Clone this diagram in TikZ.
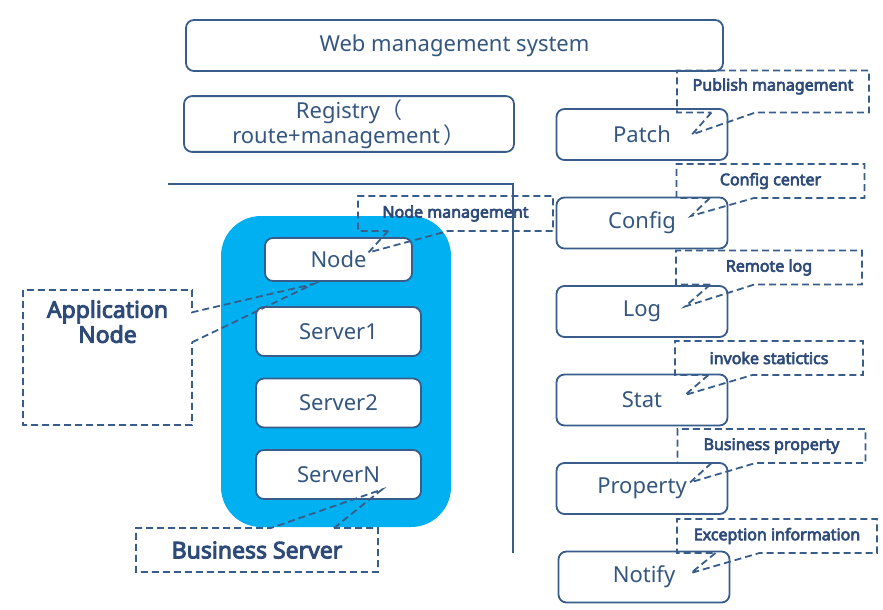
\documentclass[tikz,border=0pt]{standalone}
\usepackage{fontspec}
\setmainfont{Noto Sans}[BoldFont={Noto Sans}, BoldFeatures={FakeBold=4}]
\newfontfamily\cjkfont{Noto Sans CJK SC}
\usepackage{tikz}
\usetikzlibrary{positioning}
\usetikzlibrary{shapes.callouts}
\definecolor{lineblue}{HTML}{385D8A}
\definecolor{textblue}{HTML}{34567F}
\definecolor{notetext}{HTML}{2D4A78}
\definecolor{appblue}{HTML}{00B0F0}
\tikzset{
  box/.style={
    draw=lineblue, line width=1.8pt, rounded corners=8pt,
    fill=white, text=textblue, font=\fontsize{22}{26}\selectfont
  },
  sidebox/.style={box, minimum width=171pt, minimum height=51pt},
  srvbox/.style={box, minimum width=165pt, minimum height=49pt},
  notebox/.style={
    rectangle callout, draw=lineblue, line width=1.8pt,
    dash pattern=on 7pt off 4pt, text=notetext,
    font=\bfseries\fontsize{16}{19}\selectfont
  },
  sidenote/.style={notebox, on grid, callout pointer width=44pt,
    minimum width=188pt, minimum height=34pt}
}

\begin{document}
\begin{tikzpicture}[x=1pt,y=1pt]
      \useasboundingbox (0,0) rectangle (883,-610);
      \node [box, minimum width=537pt, minimum height=51pt] (Web) at (454.5,-45.5) {Web management system};
      \node [box, minimum width=330pt, minimum height=52pt, align=center, font=\fontsize{22}{25}\selectfont] (Registry) at (349,-124) {Registry{\cjkfont （}\\route+management\,{\cjkfont ）}};
      \draw [lineblue, line width=2.5pt] (168,-184) -| (513,-553);
      \fill [appblue, rounded corners=40pt] (221,-216) rectangle (451,-527);
      \node [box, minimum width=147pt, minimum height=43pt] (Node) at (338.5,-259.5) {Node};
      \node [srvbox, on grid, below=72pt of Node] (Server1) {Server1};
      \node [srvbox, on grid, below=71.5pt of Server1] (Server2) {Server2};
      \node [srvbox, on grid, below=71.5pt of Server2] (ServerN) {ServerN};
      \node [sidebox] (Patch) at (642,-134.5) {Patch};
      \node [sidebox, on grid, below=88.5pt of Patch] (Config) {Config};
      \node [sidebox, on grid, below=88.5pt of Config] (Log) {Log};
      \node [sidebox, on grid, below=88.5pt of Log] (Stat) {Stat};
      \node [sidebox, on grid, below=88.5pt of Stat] (Property) {Property};
      \node [sidebox, on grid, below=88.5pt of Property, xshift=2pt] (Notify) {Notify};
      \node [notebox, minimum width=169pt, minimum height=135pt, callout pointer width=30pt,
             callout absolute pointer={([xshift=-25pt,yshift=-2pt]Node.south)},
             label={[anchor=north, yshift=-11pt, inner sep=0pt, align=center, text=notetext,
                     font=\bfseries\fontsize{23}{25}\selectfont]north:Application\\Node}] (AppNote) at (107.5,-357.5) {};
      \node [notebox, on grid, above right=46pt and 117pt of Node, minimum width=195pt, minimum height=35pt,
             callout pointer width=60pt, callout absolute pointer={([shift={(30pt,7pt)}]Node.center)}] (NodeNote) {Node management};
      \node [notebox, on grid, below left=75.5pt and 81.5pt of ServerN, minimum width=242pt, minimum height=44pt,
             font=\bfseries\fontsize{23}{24}\selectfont,
             callout pointer width=63pt, callout absolute pointer={([shift={(43.5pt,-15pt)}]ServerN.center)}] (BizNote) {Business Server};
      \node [sidenote, above right=43pt and 131pt of Patch, minimum width=192pt, minimum height=42pt, text depth=14pt,
             callout absolute pointer={([shift={(50pt,0pt)}]Patch.center)}] (PatchNote) {Publish management};
      \node [sidenote, above right=42pt and 128.5pt of Config,
             callout absolute pointer={([shift={(49pt,7pt)}]Config.center)}] (ConfigNote) {Config center};
      \node [sidenote, above right=44pt and 127pt of Log, minimum width=186pt,
             callout absolute pointer={([shift={(43pt,5pt)}]Log.center)}] (LogNote) {Remote log};
      \node [sidenote, above right=42pt and 127pt of Stat,
             callout absolute pointer={([shift={(43pt,5pt)}]Stat.center)}] (StatNote) {invoke statictics};
      \node [sidenote, above right=42.5pt and 129.5pt of Property,
             callout absolute pointer={([shift={(48pt,6pt)}]Property.center)}] (PropNote) {Business property};
      \node [sidenote, above right=41pt and 133pt of Notify, minimum width=200pt,
             callout absolute pointer={([shift={(47pt,4pt)}]Notify.center)}] (NotifyNote) {Exception information};
    \end{tikzpicture}
\end{document}
